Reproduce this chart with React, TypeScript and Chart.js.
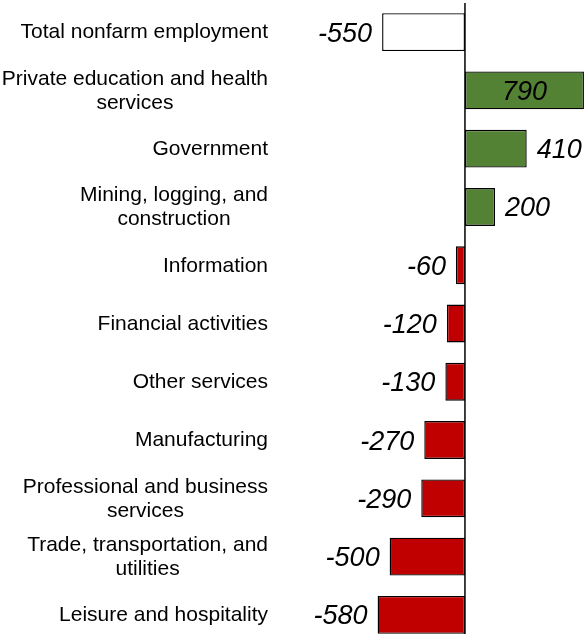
import React, { useEffect, useRef } from "react";
import { Chart, registerables } from "chart.js";

Chart.register(...registerables);

const categories: (string | string[])[] = [
  "Total nonfarm employment",
  ["Private education and health", "services"],
  "Government",
  ["Mining, logging, and", "construction"],
  "Information",
  "Financial activities",
  "Other services",
  "Manufacturing",
  ["Professional and business", "services"],
  ["Trade, transportation, and", "utilities"],
  "Leisure and hospitality",
];

const values: number[] = [-550, 790, 410, 200, -60, -120, -130, -270, -290, -500, -580];

const barColors: string[] = [
  "#FFFFFF",
  "#548235",
  "#548235",
  "#548235",
  "#C00000",
  "#C00000",
  "#C00000",
  "#C00000",
  "#C00000",
  "#C00000",
  "#C00000",
];

const FONT = "'Liberation Sans', Arial, sans-serif";
const LABEL_RIGHT = 268;
const LINE_H = 24;

const labelsPlugin = {
  id: "catLabels",
  afterDraw(chart: any) {
    const { ctx } = chart;
    const yScale = chart.scales.y;
    ctx.save();
    ctx.font = `21px ${FONT}`;
    ctx.fillStyle = "#000";
    ctx.textBaseline = "middle";
    ctx.textAlign = "center";
    (chart.data.labels as (string | string[])[]).forEach((lab, i) => {
      const lines = Array.isArray(lab) ? lab : [lab];
      const widths = lines.map((l) => ctx.measureText(l).width);
      const maxW = Math.max(...widths);
      const cx = LABEL_RIGHT - maxW / 2;
      const yc = yScale.getPixelForValue(i) + 0.5;
      const y0 = yc - ((lines.length - 1) * LINE_H) / 2;
      lines.forEach((l, k) => {
        ctx.fillText(l, cx, y0 + k * LINE_H);
      });
    });
    ctx.restore();
  },
};

const valueLabelPlugin = {
  id: "valueLabels",
  afterDatasetsDraw(chart: any) {
    const { ctx, chartArea } = chart;
    const xScale = chart.scales.x;
    const zeroX = xScale.getPixelForValue(0);
    ctx.save();
    ctx.strokeStyle = "#000";
    ctx.lineWidth = 1.5;
    ctx.beginPath();
    ctx.moveTo(zeroX, chartArea.top);
    ctx.lineTo(zeroX, chartArea.bottom);
    ctx.stroke();

    ctx.font = `italic 27px ${FONT}`;
    ctx.fillStyle = "#000";
    ctx.textBaseline = "middle";
    const meta = chart.getDatasetMeta(0);
    const data = chart.data.datasets[0].data as number[];
    meta.data.forEach((bar: any, i: number) => {
      const v = data[i];
      const text = String(v);
      const w = ctx.measureText(text).width;
      const y = bar.y + 2;
      const gap = 10;
      if (v >= 0) {
        if (bar.x + gap + w > chartArea.right) {
          ctx.textAlign = "center";
          ctx.fillText(text, (bar.x + bar.base) / 2, y);
        } else {
          ctx.textAlign = "left";
          ctx.fillText(text, bar.x + gap, y);
        }
      } else {
        ctx.textAlign = "right";
        ctx.fillText(text, bar.x - gap, y);
      }
    });
    ctx.restore();
  },
};

export default function App() {
  const canvasRef = useRef<HTMLCanvasElement | null>(null);

  useEffect(() => {
    document.body.style.margin = "0";
    const canvas = canvasRef.current;
    if (!canvas) return;
    const chart = new Chart(canvas, {
      type: "bar",
      data: {
        labels: categories,
        datasets: [
          {
            data: values,
            backgroundColor: barColors,
            borderColor: "#000000",
            borderWidth: 1.4,
            borderSkipped: false,
            categoryPercentage: 1,
            barPercentage: 0.65,
          },
        ],
      },
      options: {
        indexAxis: "y",
        responsive: true,
        maintainAspectRatio: false,
        animation: false,
        layout: { padding: { top: 3, bottom: 6, left: 280, right: 2 } },
        plugins: {
          legend: { display: false },
          tooltip: { enabled: false },
        },
        scales: {
          x: {
            display: false,
            min: -1228,
            max: 797,
          },
          y: {
            display: false,
          },
        },
      },
      plugins: [valueLabelPlugin, labelsPlugin],
    });
    return () => chart.destroy();
  }, []);

  return (
    <div style={{ width: 587, height: 634, overflow: "hidden", background: "#fff" }}>
      <div style={{ position: "relative", width: 587, height: 650 }}>
        <canvas ref={canvasRef} />
      </div>
    </div>
  );
}
